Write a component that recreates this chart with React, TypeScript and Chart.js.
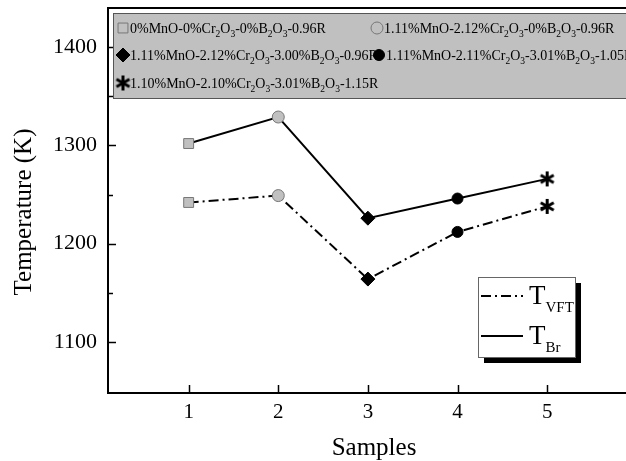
import React, { useEffect, useRef } from 'react';
import { Chart, registerables } from 'chart.js';

Chart.register(...registerables);

const samples = [1, 2, 3, 4, 5];
const tBr = [1302, 1329, 1226, 1246, 1266];
const tVft = [1242, 1249, 1164, 1212, 1238];
const yTickValues = [1100, 1150, 1200, 1250, 1300, 1350, 1400];
const xTickValues = [1, 2, 3, 4, 5];
const compositions = [
  '0%MnO-0%Cr_2O_3-0%B_2O_3-0.96R',
  '1.11%MnO-2.12%Cr_2O_3-0%B_2O_3-0.96R',
  '1.11%MnO-2.12%Cr_2O_3-3.00%B_2O_3-0.96R',
  '1.11%MnO-2.11%Cr_2O_3-3.01%B_2O_3-1.05R',
  '1.10%MnO-2.10%Cr_2O_3-3.01%B_2O_3-1.15R',
];
const seriesLabels = [
  ['T', 'VFT'],
  ['T', 'Br'],
];
const yTitle = 'Temperature (K)';
const xTitle = 'Samples';

const FONT = '"Liberation Serif", "Times New Roman", serif';

function makeAsterisk(): HTMLCanvasElement {
  const c = document.createElement('canvas');
  c.width = 17;
  c.height = 17;
  const g = c.getContext('2d')!;
  g.strokeStyle = '#000';
  g.lineWidth = 3;
  const r = 7.5;
  for (let k = 0; k < 3; k++) {
    const a = Math.PI / 2 + (k * Math.PI) / 3;
    g.beginPath();
    g.moveTo(8.5 - r * Math.cos(a), 8.5 - r * Math.sin(a));
    g.lineTo(8.5 + r * Math.cos(a), 8.5 + r * Math.sin(a));
    g.stroke();
  }
  return c;
}

function drawRich(ctx: CanvasRenderingContext2D, text: string, x: number, y: number, size: number, subSize: number, subDrop: number) {
  const parts = text.split(/_(\d)/);
  let cx = x;
  parts.forEach((p, i) => {
    if (!p) return;
    const sub = i % 2 === 1;
    ctx.font = `${sub ? subSize : size}px ${FONT}`;
    ctx.fillText(p, cx, sub ? y + subDrop : y);
    cx += ctx.measureText(p).width;
  });
}

export default function App() {
  const ref = useRef<HTMLCanvasElement | null>(null);

  useEffect(() => {
    document.body.style.margin = '0';
    const asterisk = makeAsterisk();
    const markerStyle: any[] = ['rect', 'circle', 'rectRot', 'circle', asterisk];
    const markerFill = ['#c0c0c0', '#c0c0c0', '#000', '#000', '#000'];
    const markerBorder = ['#777', '#777', '#000', '#000', '#000'];
    const markerRadius = [7, 6, 7, 5.5, 8];

    const drawMarker = (ctx: CanvasRenderingContext2D, i: number, x: number, y: number) => {
      ctx.save();
      ctx.fillStyle = markerFill[i];
      ctx.strokeStyle = markerBorder[i];
      ctx.lineWidth = 1;
      const r = markerRadius[i];
      const st = markerStyle[i];
      ctx.beginPath();
      if (st === 'rect') {
        const s = Math.SQRT1_2 * r;
        ctx.rect(x - s, y - s, 2 * s, 2 * s);
        ctx.fill();
        ctx.stroke();
      } else if (st === 'circle') {
        ctx.arc(x, y, r, 0, Math.PI * 2);
        ctx.fill();
        ctx.stroke();
      } else if (st === 'rectRot') {
        ctx.moveTo(x, y - r);
        ctx.lineTo(x + r, y);
        ctx.lineTo(x, y + r);
        ctx.lineTo(x - r, y);
        ctx.closePath();
        ctx.fill();
        ctx.stroke();
      } else {
        ctx.drawImage(st, x - st.width / 2, y - st.height / 2);
      }
      ctx.restore();
    };

    const decor = {
      id: 'decor',
      afterDatasetsDraw(chart: any) {
        const ctx: CanvasRenderingContext2D = chart.ctx;
        const { left, right, top, bottom } = chart.chartArea;
        const xs = chart.scales.x;
        const ys = chart.scales.y;
        ctx.save();
        // frame
        ctx.strokeStyle = '#000';
        ctx.lineWidth = 2;
        ctx.beginPath();
        ctx.moveTo(right + 2, top);
        ctx.lineTo(left, top);
        ctx.lineTo(left, bottom);
        ctx.lineTo(right + 2, bottom);
        ctx.stroke();
        // ticks
        ctx.lineWidth = 1.5;
        yTickValues.forEach((v) => {
          const py = Math.round(ys.getPixelForValue(v)) + 0.5;
          const len = v % 100 === 0 ? 8 : 5;
          ctx.beginPath();
          ctx.moveTo(left, py);
          ctx.lineTo(left + len, py);
          ctx.stroke();
        });
        xTickValues.forEach((v) => {
          const px = Math.round(xs.getPixelForValue(v)) + 0.5;
          ctx.beginPath();
          ctx.moveTo(px, bottom);
          ctx.lineTo(px, bottom - 8);
          ctx.stroke();
        });

        // top legend box
        ctx.fillStyle = '#c0c0c0';
        ctx.fillRect(left + 5, top + 5, right - left, 85);
        ctx.strokeStyle = '#555';
        ctx.lineWidth = 1;
        ctx.strokeRect(left + 5.5, top + 5.5, right - left, 85);
        const pos = [
          [123, 28],
          [377, 28],
          [123, 55],
          [379, 55],
          [123, 83],
        ];
        ctx.textBaseline = 'alphabetic';
        ctx.textAlign = 'left';
        compositions.forEach((t, i) => {
          const [mx, my] = pos[i];
          drawMarker(ctx, i, mx, my);
          ctx.fillStyle = '#000';
          drawRich(ctx, t, mx + 7, my + 5, 14, 9.5, 4);
        });

        // series legend box
        const bx = 478, by = 277, bw = 97, bh = 80;
        ctx.fillStyle = '#000';
        ctx.fillRect(bx + 6, by + 6, bw, bh);
        ctx.fillStyle = '#fff';
        ctx.fillRect(bx, by, bw, bh);
        ctx.strokeStyle = '#666';
        ctx.lineWidth = 1;
        ctx.strokeRect(bx + 0.5, by + 0.5, bw, bh);
        ctx.strokeStyle = '#000';
        ctx.lineWidth = 2;
        const rows = [296, 336];
        rows.forEach((ry, i) => {
          ctx.setLineDash(i === 0 ? [10, 4, 2, 4] : []);
          ctx.beginPath();
          ctx.moveTo(481, ry);
          ctx.lineTo(523, ry);
          ctx.stroke();
          ctx.setLineDash([]);
          ctx.fillStyle = '#000';
          ctx.font = `27px ${FONT}`;
          ctx.fillText(seriesLabels[i][0], 529, ry + 8);
          const tw = ctx.measureText(seriesLabels[i][0]).width;
          ctx.font = `15px ${FONT}`;
          ctx.fillText(seriesLabels[i][1], 529 + tw, ry + 16);
        });

        // axis titles
        ctx.fillStyle = '#000';
        ctx.font = `25px ${FONT}`;
        ctx.textAlign = 'center';
        ctx.textBaseline = 'alphabetic';
        ctx.fillText(xTitle, 374, 455);
        ctx.save();
        ctx.translate(31, 212);
        ctx.rotate(-Math.PI / 2);
        ctx.fillText(yTitle, 0, 0);
        ctx.restore();
        ctx.restore();
      },
    };

    const chart = new Chart(ref.current!, {
      type: 'line',
      data: {
        datasets: [
          {
            label: 'T_VFT',
            data: samples.map((s, i) => ({ x: s, y: tVft[i] })),
            borderColor: '#000',
            borderWidth: 2,
            borderDash: [10, 4, 2, 4],
            pointStyle: markerStyle,
            pointRadius: markerRadius,
            pointBackgroundColor: markerFill,
            pointBorderColor: markerBorder,
            pointBorderWidth: 1,
            tension: 0,
          },
          {
            label: 'T_Br',
            data: samples.map((s, i) => ({ x: s, y: tBr[i] })),
            borderColor: '#000',
            borderWidth: 2,
            pointStyle: markerStyle,
            pointRadius: markerRadius,
            pointBackgroundColor: markerFill,
            pointBorderColor: markerBorder,
            pointBorderWidth: 1,
            tension: 0,
          },
        ],
      },
      options: {
        animation: false,
        responsive: false,
        events: [],
        layout: { autoPadding: false, padding: { top: 8, left: 0, right: 0, bottom: 0 } },
        plugins: { legend: { display: false }, tooltip: { enabled: false } },
        scales: {
          x: {
            type: 'linear',
            min: 0.1,
            max: 5.88,
            grid: { display: false, drawTicks: false },
            border: { display: false },
            afterBuildTicks: (s: any) => {
              s.ticks = xTickValues.map((v) => ({ value: v }));
            },
            afterFit: (s: any) => {
              s.height = 68;
              s.paddingLeft = 0;
              s.paddingRight = 0;
              s.paddingTop = 0;
              s.paddingBottom = 0;
              if (s._margins) {
                s._margins.left = 0;
                s._margins.right = 0;
              }
            },
            ticks: {
              padding: 7,
              color: '#000',
              font: { family: FONT, size: 21 },
              maxRotation: 0,
              autoSkip: false,
            },
          },
          y: {
            type: 'linear',
            min: 1048,
            max: 1440,
            grid: { display: false, drawTicks: false },
            border: { display: false },
            afterBuildTicks: (s: any) => {
              s.ticks = yTickValues.map((v) => ({ value: v }));
            },
            afterFit: (s: any) => {
              s.width = 108;
              s.paddingLeft = 0;
              s.paddingRight = 0;
              s.paddingTop = 0;
              s.paddingBottom = 0;
            },
            ticks: {
              padding: 11,
              color: '#000',
              font: { family: FONT, size: 22 },
              autoSkip: false,
              callback: (v: any) => (Number(v) % 100 === 0 ? String(v) : ''),
            },
          },
        },
      },
      plugins: [decor],
    });
    return () => chart.destroy();
  }, []);

  return <canvas ref={ref} width={626} height={461} style={{ display: 'block' }} />;
}
